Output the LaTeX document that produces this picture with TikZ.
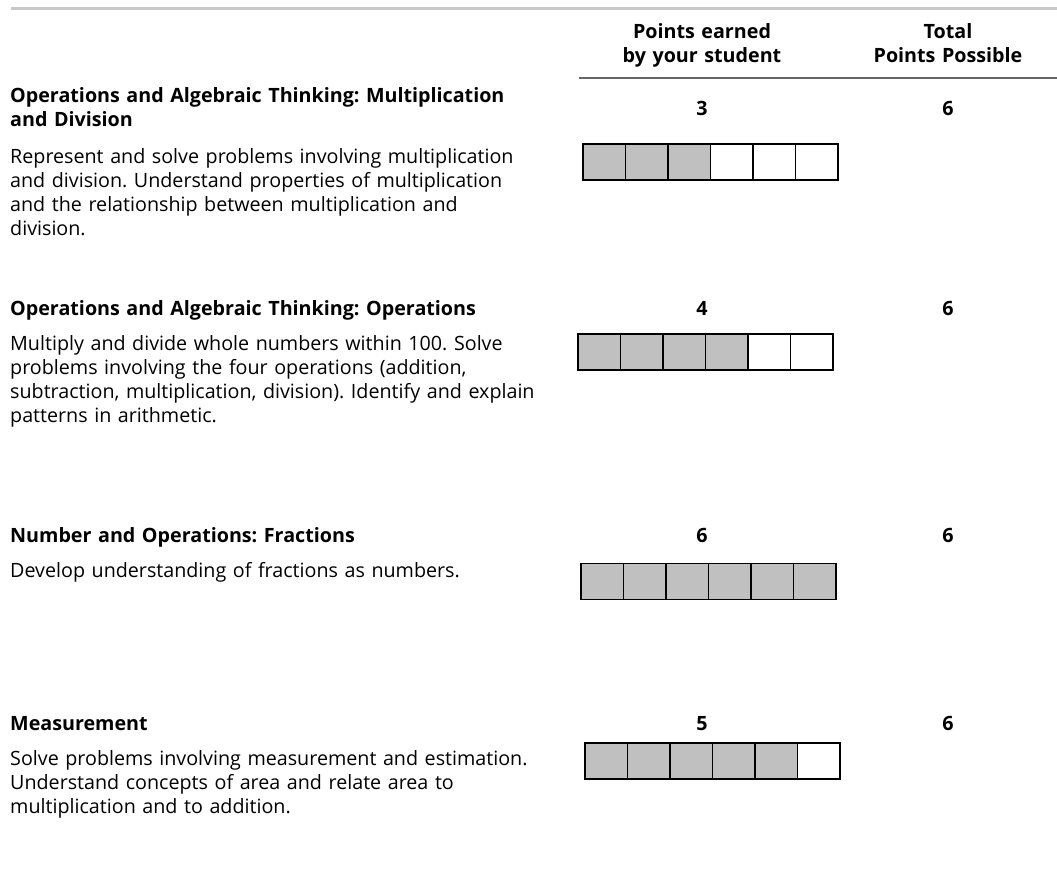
\documentclass[tikz,border=0pt]{standalone}
\usepackage{fontspec}
\setmainfont{Open Sans}
\definecolor{barfill}{HTML}{C0C0C0}
\definecolor{rulegray}{HTML}{C8C8C8}
\frenchspacing

\begin{document}
\begin{tikzpicture}[x=1pt,y=-1pt,inner sep=0pt,node distance=42.5pt,
    txt/.style={anchor=base west,align=left,text width=560pt,
        font=\fontsize{19.7}{24}\selectfont},
    head/.style={txt,font=\fontsize{19.7}{24.5}\selectfont\bfseries},
    num/.style={anchor=base,font=\fontsize{19.7}{24}\selectfont\bfseries},
    cell/.style={draw,line width=1.1pt,minimum width=42.5pt,
        minimum height=36pt},
    hit/.style={fill=barfill}]
    \useasboundingbox (0,0) rectangle (1057,884);
    \draw [rulegray,line width=3pt] (11,8) coordinate (R0) -- (1057,8);
        % column heads
        \node [num,align=center,text width=250pt] (HP) at (702,38)
            {Points earned\\by your student};
        \node [num,align=center,text width=250pt] (HT) at (948,38)
            {Total\\Points Possible};
        \draw [line width=1.1pt,black!60] (579,78) -- (1057,78);
        % multiplication and division
        \node [head] (T1) at (10,102)
            {Operations and Algebraic Thinking: Multiplication\\and Division};
        \node [txt] (D1) at (10,163)
            {Represent and solve problems involving multiplication\\
             and division. Understand properties of multiplication\\
             and the relationship between multiplication and\\division.};
        \node [num] (P1) at (702,115) {3};
        \node [num] (M1) at (948,115) {6};
        \node [cell,hit] (A1) at (604.25,162) {};
        \node [cell,hit,right of=A1] (A2) {};
        \node [cell,hit,right of=A2] (A3) {};
        \node [cell,right of=A3] (A4) {};
        \node [cell,right of=A4] (A5) {};
        \node [cell,right of=A5] (A6) {};
        % operations
        \node [head] (T2) at (10,315)
            {Operations and Algebraic Thinking: Operations};
        \node [txt] (D2) at (10,350)
            {Multiply and divide whole numbers within 100. Solve\\
             problems involving the four operations (addition,\\
             subtraction, multiplication, division). Identify and explain\\
             patterns in arithmetic.};
        \node [num] (P2) at (702,315) {4};
        \node [num] (M2) at (948,315) {6};
        \node [cell,hit] (B1) at (599.25,352) {};
        \node [cell,hit,right of=B1] (B2) {};
        \node [cell,hit,right of=B2] (B3) {};
        \node [cell,hit,right of=B3] (B4) {};
        \node [cell,right of=B4] (B5) {};
        \node [cell,right of=B5] (B6) {};
        % fractions
        \node [head] (T3) at (10,542)
            {Number and Operations: Fractions};
        \node [txt] (D3) at (10,577)
            {Develop understanding of fractions as numbers.};
        \node [num] (P3) at (702,542) {6};
        \node [num] (M3) at (948,542) {6};
        \node [cell,hit] (C1) at (602.25,581.5) {};
        \node [cell,hit,right of=C1] (C2) {};
        \node [cell,hit,right of=C2] (C3) {};
        \node [cell,hit,right of=C3] (C4) {};
        \node [cell,hit,right of=C4] (C5) {};
        \node [cell,hit,right of=C5] (C6) {};
        % measurement
        \node [head] (T4) at (10,730) {Measurement};
        \node [txt] (D4) at (10,765)
            {Solve problems involving measurement and estimation.\\
             Understand concepts of area and relate area to\\
             multiplication and to addition.};
        \node [num] (P4) at (702,730) {5};
        \node [num] (M4) at (948,730) {6};
        \node [cell,hit] (E1) at (606.25,761) {};
        \node [cell,hit,right of=E1] (E2) {};
        \node [cell,hit,right of=E2] (E3) {};
        \node [cell,hit,right of=E3] (E4) {};
        \node [cell,hit,right of=E4] (E5) {};
        \node [cell,right of=E5] (E6) {};
    \end{tikzpicture}
\end{document}
